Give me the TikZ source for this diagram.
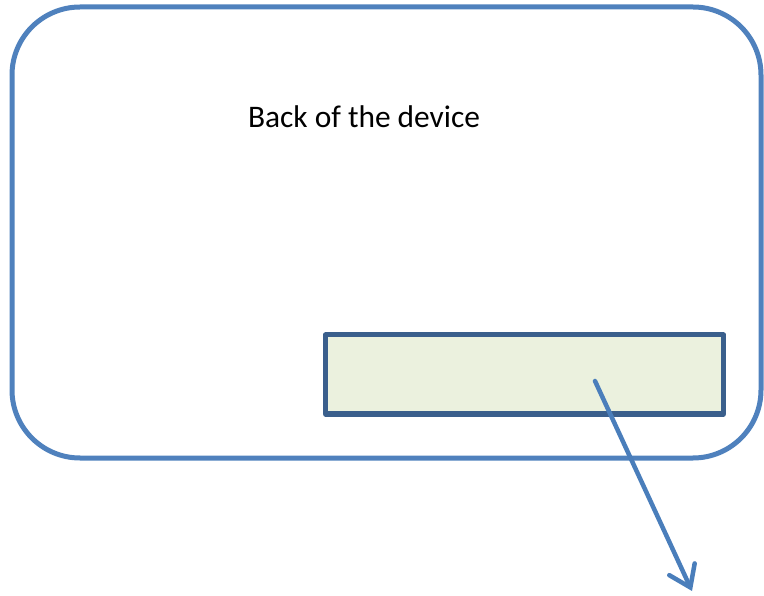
\documentclass[tikz,border=0pt]{standalone}
\usepackage{fontspec}
\setmainfont{Carlito}
\usetikzlibrary{arrows.meta}
\definecolor{outerblue}{HTML}{4F81BD}
\definecolor{innerblue}{HTML}{3A5F8C}
\definecolor{innerfill}{HTML}{EBF1DE}
\definecolor{arrowblue}{HTML}{4A7EBB}
\tikzset{
  devicebox/.style={draw=outerblue, line width=5pt, rounded corners=68pt},
  labelbox/.style={draw=innerblue, fill=innerfill, line width=5pt, line join=round, outer sep=0pt},
  pointer/.style={draw=arrowblue, line width=4.5pt, line cap=round,
    -{Straight Barb[length=20pt,width=28pt,line cap=round]}},
  caption/.style={font=\fontsize{31.4}{37}\selectfont, anchor=base, inner sep=0pt}
}
\begin{document}
\begin{tikzpicture}[x=1pt,y=-1pt]
\useasboundingbox (0,0) rectangle (764,596);
\draw[devicebox] (12,7) rectangle (761,458);
\node[labelbox, minimum width=398pt, minimum height=79pt, inner sep=0pt, anchor=north west] (lbl) at (325.5,335) {};
\node[caption] (title) at (364,128) {Back of the device};
\coordinate (start) at (595,381);
\coordinate (tip) at (692,591);
\draw[pointer] (start) -- (tip);
\end{tikzpicture}
\end{document}
